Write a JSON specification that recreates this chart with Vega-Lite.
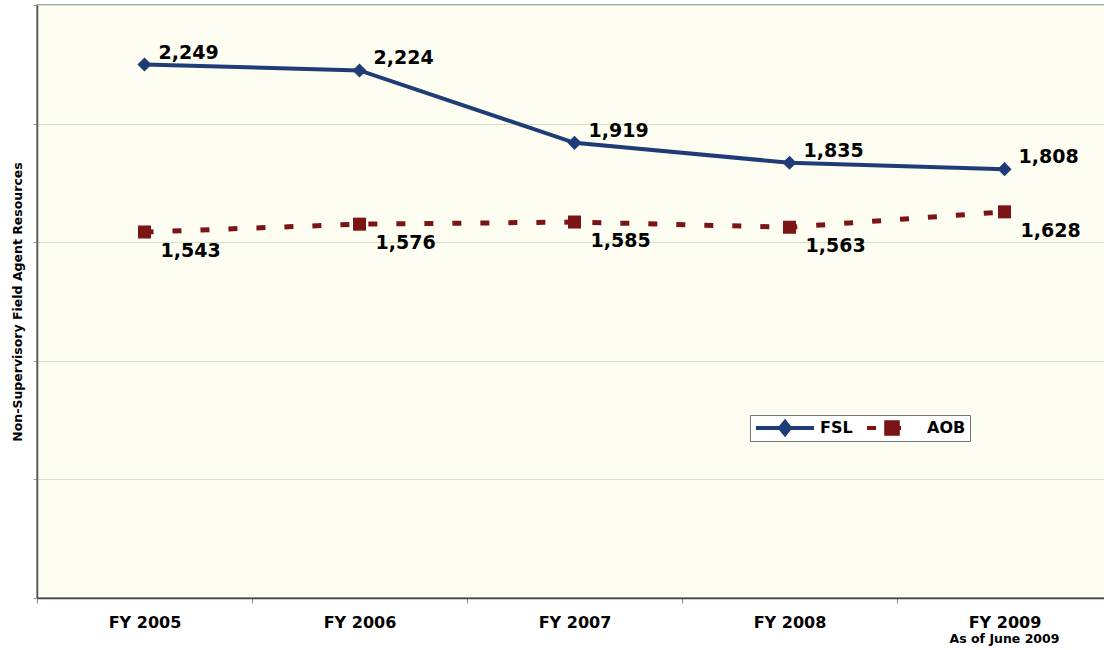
{
  "$schema": "https://vega.github.io/schema/vega-lite/v6.json",
  "width": 1075,
  "height": 593,
  "autosize": "none",
  "padding": {"left": 37, "top": 5, "right": 0, "bottom": 52},
  "background": "white",
  "config": {
    "view": {"fill": "#fdfdf1", "stroke": "#8a8a8a", "strokeWidth": 1.5},
    "font": "DejaVu Sans"
  },
  "data": {
    "values": [
      {"year": "FY 2005", "series": "FSL", "value": 2249},
      {"year": "FY 2006", "series": "FSL", "value": 2224},
      {"year": "FY 2007", "series": "FSL", "value": 1919},
      {"year": "FY 2008", "series": "FSL", "value": 1835},
      {"year": "FY 2009", "series": "FSL", "value": 1808},
      {"year": "FY 2005", "series": "AOB", "value": 1543},
      {"year": "FY 2006", "series": "AOB", "value": 1576},
      {"year": "FY 2007", "series": "AOB", "value": 1585},
      {"year": "FY 2008", "series": "AOB", "value": 1563},
      {"year": "FY 2009", "series": "AOB", "value": 1628}
    ]
  },
  "encoding": {
    "x": {
      "field": "year", "type": "nominal",
      "scale": {"type": "band", "paddingInner": 0, "paddingOuter": 0},
      "axis": null
    },
    "y": {
      "field": "value", "type": "quantitative",
      "scale": {"domain": [0, 2500], "nice": false},
      "axis": {
        "title": "Non-Supervisory Field Agent Resources",
        "titleFont": "DejaVu Sans", "titleFontWeight": "bold", "titleFontSize": 12.5,
        "titleColor": "black", "titlePadding": 8,
        "labels": false, "tickSize": 4, "tickColor": "#999999",
        "domainColor": "#555555", "domainWidth": 1.5,
        "values": [0, 500, 1000, 1500, 2000, 2500],
        "grid": true, "gridColor": "#d3e4c6", "gridWidth": 1
      }
    }
  },
  "layer": [
    {
      "transform": [{"filter": "datum.series == 'FSL'"}],
      "mark": {"type": "line", "color": "#1f3c78", "strokeWidth": 4},
      "encoding": {
        "x": {
          "field": "year", "type": "nominal",
          "scale": {"type": "band", "paddingInner": 0, "paddingOuter": 0},
          "axis": {
            "orient": "bottom",
            "title": null, "labelFont": "DejaVu Sans", "labelFontWeight": "bold",
            "labelFontSize": 16, "labelColor": "black", "labelPadding": 11, "labelAngle": 0,
            "tickBand": "extent", "tickSize": 5, "tickColor": "#888888",
            "domainColor": "#444444", "domainWidth": 1.5, "grid": false
          }
        }
      }
    },
    {
      "transform": [{"filter": "datum.series == 'AOB'"}],
      "mark": {"type": "line", "color": "#7b1416", "strokeWidth": 5, "strokeDash": [9, 19]}
    },
    {
      "transform": [{"filter": "datum.series == 'FSL'"}],
      "mark": {"type": "point", "shape": "diamond", "filled": true, "opacity": 1, "size": 200, "color": "#1f3c78"}
    },
    {
      "transform": [{"filter": "datum.series == 'AOB'"}],
      "mark": {"type": "point", "shape": "square", "filled": true, "opacity": 1, "size": 170, "color": "#7b1416"}
    },
    {
      "transform": [{"filter": "datum.series == 'FSL'"}],
      "mark": {"type": "text", "align": "left", "baseline": "alphabetic", "dx": 14, "dy": -6,
               "font": "DejaVu Sans", "fontWeight": "bold", "fontSize": 19, "color": "black"},
      "encoding": {"text": {"field": "value", "type": "quantitative", "format": ",d"}}
    },
    {
      "transform": [{"filter": "datum.series == 'AOB'"}],
      "mark": {"type": "text", "align": "left", "baseline": "alphabetic", "dx": 16, "dy": 25,
               "font": "DejaVu Sans", "fontWeight": "bold", "fontSize": 19, "color": "black"},
      "encoding": {"text": {"field": "value", "type": "quantitative", "format": ",d"}}
    },
    {
      "mark": {"type": "point", "filled": true, "opacity": 0},
      "encoding": {
        "x": {
          "field": "year", "type": "nominal",
          "scale": {"type": "band", "paddingInner": 0, "paddingOuter": 0},
          "axis": {
            "orient": "bottom",
            "title": null, "domain": false, "ticks": false, "tickSize": 0, "grid": false,
            "labelExpr": "datum.value == 'FY 2009' ? 'As of June 2009' : ''",
            "labelFont": "DejaVu Sans", "labelFontWeight": "bold", "labelFontSize": 12.5,
            "labelColor": "black", "labelPadding": 34, "labelAngle": 0
          }
        },
        "color": {
          "field": "series", "type": "nominal",
          "scale": {"domain": ["FSL", "AOB"], "range": ["#1f3c78", "#7b1416"]},
          "legend": {
            "title": null, "orient": "none", "legendX": 713, "legendY": 410,
            "direction": "horizontal", "fillColor": "white", "strokeColor": "#777777",
            "padding": 4, "columnPadding": 8,
            "labelFont": "DejaVu Sans", "labelFontWeight": "bold", "labelFontSize": 16,
            "labelColor": "black", "labelOffset": 4,
            "symbolSize": 3364, "symbolStrokeWidth": 4, "symbolOpacity": 1, "clipHeight": 18,
            "encode": {"symbols": {"update": {
              "opacity": {"value": 1},
              "stroke": {"scale": "color", "field": "value"},
              "fill": {"scale": "color", "field": "value"},
              "strokeWidth": {"value": 4}
            }}}
          }
        },
        "shape": {
          "field": "series", "type": "nominal",
          "scale": {"domain": ["FSL", "AOB"], "range": [
            "M-1,0H1M0,-0.21L0.17,0L0,0.21L-0.17,0Z",
            "M-0.86,0H-0.55M-0.2,0H0.31M-0.2,-0.2H0.2V0.2H-0.2Z"
          ]},
          "legend": {
            "title": null, "orient": "none", "legendX": 713, "legendY": 410,
            "direction": "horizontal", "fillColor": "white", "strokeColor": "#777777",
            "padding": 4, "columnPadding": 8,
            "labelFont": "DejaVu Sans", "labelFontWeight": "bold", "labelFontSize": 16,
            "labelColor": "black", "labelOffset": 4,
            "symbolSize": 3364, "symbolStrokeWidth": 4, "symbolOpacity": 1, "clipHeight": 18,
            "encode": {"symbols": {"update": {
              "opacity": {"value": 1},
              "stroke": {"scale": "color", "field": "value"},
              "fill": {"scale": "color", "field": "value"},
              "strokeWidth": {"value": 4}
            }}}
          }
        }
      }
    }
  ],
  "resolve": {"axis": {"x": "independent"}}
}
